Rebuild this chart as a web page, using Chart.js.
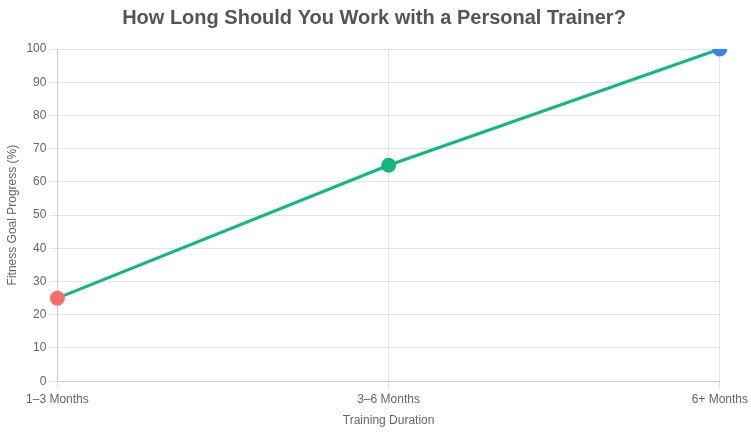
<!DOCTYPE html>
<html>
<head>
<meta charset="utf-8">
<script src="https://cdn.jsdelivr.net/npm/chart.js@4"></script>
<style>
  html, body { margin: 0; padding: 0; background: #fff; }
  #wrap { width: 751px; height: 433px; }
</style>
</head>
<body>
<div id="wrap"><canvas id="chart"></canvas></div>
<script>
const durations = ["1–3 Months", "3–6 Months", "6+ Months"];
const progress = [25, 65, 100];
const pointColors = ["#ff6b6b", "#10b981", "#3b82f6"];

Chart.defaults.font.family = "'Liberation Sans', Arial, sans-serif";
Chart.defaults.color = "#666";

new Chart(document.getElementById("chart"), {
  type: "line",
  data: {
    labels: durations,
    datasets: [{
      label: "Progress",
      data: progress,
      borderColor: "#10b981",
      borderWidth: 3,
      pointBackgroundColor: pointColors,
      pointBorderColor: pointColors,
      pointRadius: 6,
      tension: 0,
      fill: false
    }]
  },
  options: {
    responsive: true,
    maintainAspectRatio: false,
    animation: false,
    layout: { padding: { left: 1, right: 4, top: 0, bottom: 1 } },
    plugins: {
      legend: { display: false },
      title: {
        display: true,
        text: "How Long Should You Work with a Personal Trainer?",
        color: "#555",
        font: { size: 20, weight: "bold" },
        padding: { top: 6, bottom: 19 }
      }
    },
    scales: {
      x: {
        title: { display: true, text: "Training Duration", font: { size: 12 } },
        ticks: { font: { size: 12 } }
      },
      y: {
        min: 0,
        max: 100,
        ticks: { stepSize: 10, font: { size: 12 } },
        title: { display: true, text: "Fitness Goal Progress (%)", font: { size: 12 } }
      }
    }
  }
});
</script>
</body>
</html>
